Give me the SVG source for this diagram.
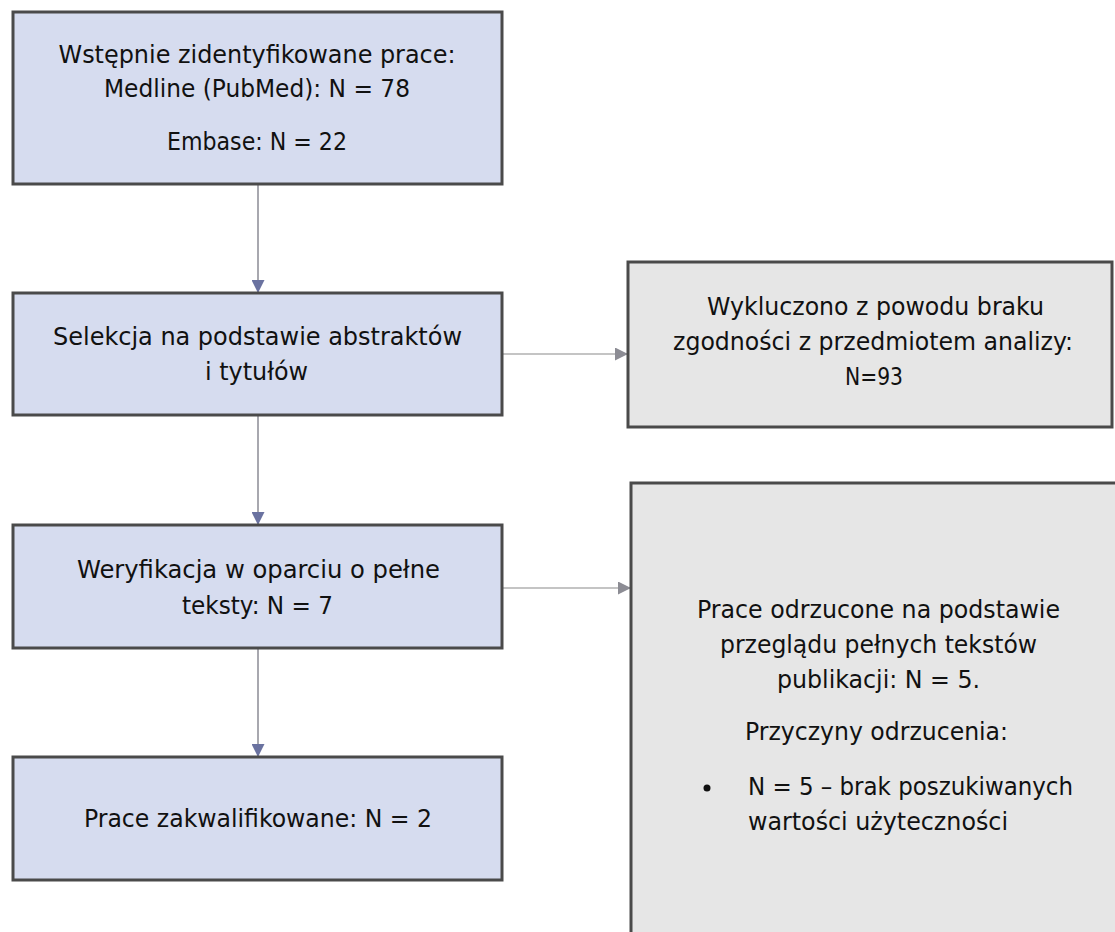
<svg xmlns="http://www.w3.org/2000/svg" width="1115" height="932" viewBox="0 0 1115 932">
<style>
.left{fill:#d6dcef;stroke:#4a4a4a;stroke-width:3}
.right{fill:#e6e6e6;stroke:#4a4a4a;stroke-width:3}
text{font-family:"DejaVu Sans Condensed","DejaVu Sans",sans-serif;font-size:24px;fill:#111}
.c{text-anchor:middle}
.v{stroke:#6e6e7a;stroke-width:1.2;fill:none}
.h{stroke:#8a8a8a;stroke-width:1.2;fill:none}
</style>
<defs>
<marker id="av" viewBox="0 0 12 12" refX="12" refY="6" markerWidth="13" markerHeight="13" markerUnits="userSpaceOnUse" orient="auto">
<path d="M0,0 L12,6 L0,12 z" fill="#6a72a0"/>
</marker>
<marker id="ah" viewBox="0 0 12 12" refX="12" refY="6" markerWidth="13" markerHeight="13" markerUnits="userSpaceOnUse" orient="auto">
<path d="M0,0 L12,6 L0,12 z" fill="#8c8c94"/>
</marker>
</defs>
<rect width="1115" height="932" fill="#ffffff"/>
<g id="connectors">
<line class="v" x1="258" y1="185" x2="258" y2="293" marker-end="url(#av)"/>
<line class="v" x1="258" y1="416" x2="258" y2="525" marker-end="url(#av)"/>
<line class="v" x1="258" y1="649" x2="258" y2="757" marker-end="url(#av)"/>
<line class="h" x1="502" y1="354" x2="628" y2="354" marker-end="url(#ah)"/>
<line class="h" x1="502" y1="588" x2="631" y2="588" marker-end="url(#ah)"/>
</g>
<g id="node1">
<rect class="left" x="13" y="12" width="489" height="172"/>
<text class="c" x="257" y="63" textLength="397" lengthAdjust="spacingAndGlyphs">Wstępnie zidentyfikowane prace:</text>
<text class="c" x="257" y="97" textLength="306" lengthAdjust="spacingAndGlyphs">Medline (PubMed): N = 78</text>
<text class="c" x="257" y="150" textLength="180" lengthAdjust="spacingAndGlyphs">Embase: N = 22</text>
</g>
<g id="node2">
<rect class="left" x="13" y="293" width="489" height="122"/>
<text class="c" x="257.5" y="345" textLength="409" lengthAdjust="spacingAndGlyphs">Selekcja na podstawie abstraktów</text>
<text class="c" x="256.5" y="380" textLength="103" lengthAdjust="spacingAndGlyphs">i tytułów</text>
</g>
<g id="node3">
<rect class="left" x="13" y="525" width="489" height="123"/>
<text class="c" x="258.5" y="578" textLength="363" lengthAdjust="spacingAndGlyphs">Weryfikacja w oparciu o pełne</text>
<text class="c" x="257.5" y="614" textLength="151" lengthAdjust="spacingAndGlyphs">teksty: N = 7</text>
</g>
<g id="node4">
<rect class="left" x="13" y="757" width="489" height="123"/>
<text class="c" x="258" y="827" textLength="348" lengthAdjust="spacingAndGlyphs">Prace zakwalifikowane: N = 2</text>
</g>
<g id="node5">
<rect class="right" x="628" y="262" width="484" height="165"/>
<text class="c" x="875.5" y="315" textLength="337" lengthAdjust="spacingAndGlyphs">Wykluczono z powodu braku</text>
<text class="c" x="873" y="350" textLength="400" lengthAdjust="spacingAndGlyphs">zgodności z przedmiotem analizy:</text>
<text class="c" x="874" y="385" textLength="58" lengthAdjust="spacingAndGlyphs">N=93</text>
</g>
<g id="node6">
<rect class="right" x="631" y="483" width="500" height="462"/>
<text class="c" x="878.5" y="618" textLength="363" lengthAdjust="spacingAndGlyphs">Prace odrzucone na podstawie</text>
<text class="c" x="878.5" y="653" textLength="317" lengthAdjust="spacingAndGlyphs">przeglądu pełnych tekstów</text>
<text class="c" x="878.5" y="688" textLength="203" lengthAdjust="spacingAndGlyphs">publikacji: N = 5.</text>
<text class="c" x="876.5" y="740" textLength="263" lengthAdjust="spacingAndGlyphs">Przyczyny odrzucenia:</text>
<circle cx="707" cy="788" r="3.5" fill="#111"/>
<text x="748" y="795" textLength="325" lengthAdjust="spacingAndGlyphs">N = 5 – brak poszukiwanych</text>
<text x="748" y="830" textLength="260" lengthAdjust="spacingAndGlyphs">wartości użyteczności</text>
</g>
</svg>
